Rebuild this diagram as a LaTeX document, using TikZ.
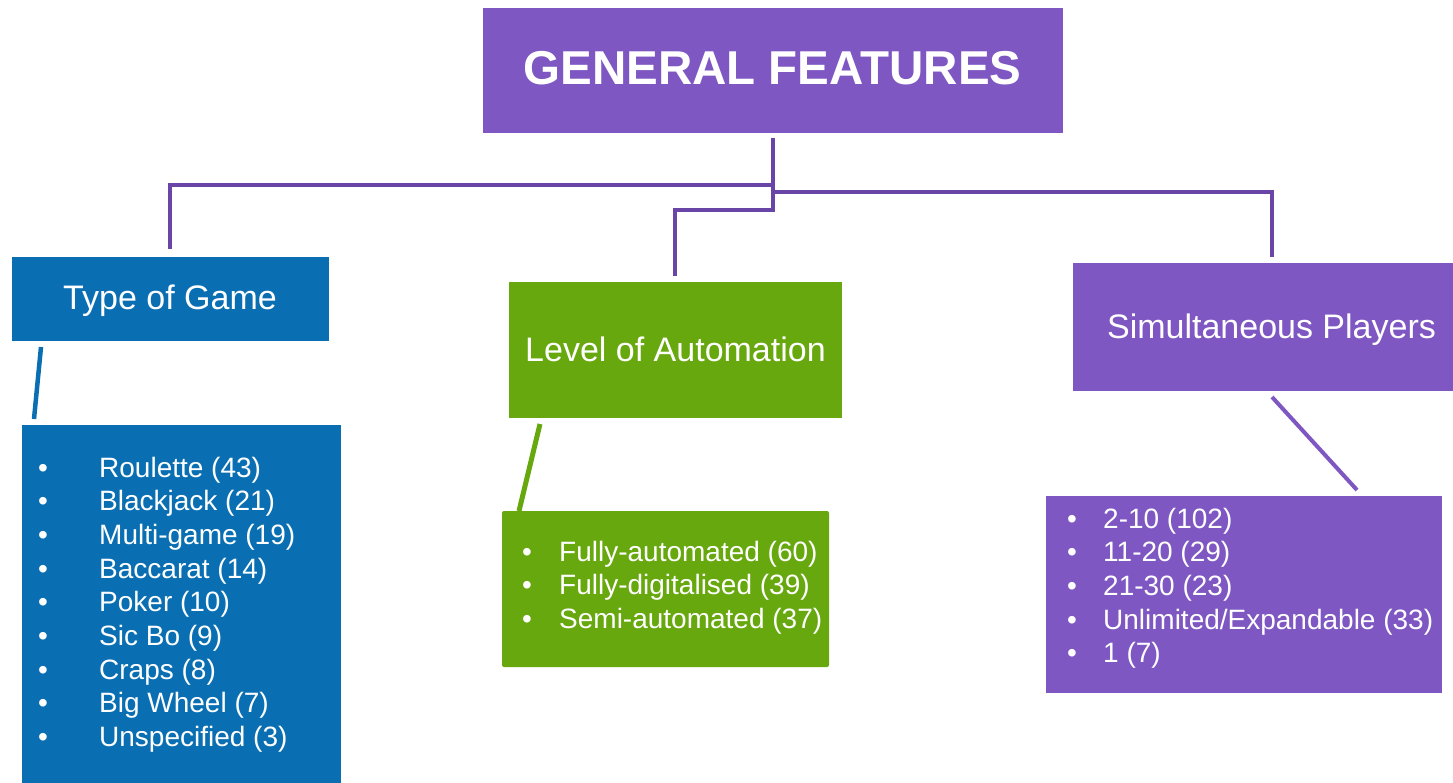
\documentclass[tikz,border=0pt]{standalone}
\usepackage{fontspec}
\setmainfont{Liberation Sans}
\definecolor{featpurple}{RGB}{126,87,194}
\definecolor{linkpurple}{RGB}{104,69,166}
\definecolor{gameblue}{RGB}{10,111,178}
\definecolor{autogreen}{RGB}{102,168,13}
\begin{document}
\begin{tikzpicture}[x=1pt,y=-1pt,
  panel/.style={rectangle, inner sep=0pt, outer sep=0pt},
  heading/.style={anchor=base, text=white, inner sep=0pt, font=\fontsize{34}{40}\selectfont},
  item/.style={anchor=base west, text=white, inner sep=0pt, font=\fontsize{28}{33.7}\selectfont},
  dot/.style={anchor=base, text=white, inner sep=0pt, font=\fontsize{28}{33.7}\selectfont},
  branch/.style={draw=linkpurple, line width=4pt, line cap=butt, line join=miter},
  leaf/.style={line width=4.5pt, line cap=butt}]
\useasboundingbox (0,0) rectangle (1453,782);

% category boxes
\node[panel, fill=featpurple, minimum width=580, minimum height=125] (title) at (773,70.5) {};
\node[panel, fill=gameblue, minimum width=317, minimum height=84] (game) at (170.5,299) {};
\node[panel, fill=autogreen, minimum width=333, minimum height=136] (auto) at (675.5,350) {};
\node[panel, fill=featpurple, minimum width=387, minimum height=128] (players) at (1266.5,327) {};

% list boxes
\node[panel, fill=gameblue, minimum width=319, minimum height=365] (gamelist) at (181.5,607.5) {};
\node[panel, fill=autogreen, rounded corners=2pt, minimum width=327, minimum height=156] (autolist) at (665.5,589) {};
\node[panel, fill=featpurple, minimum width=396, minimum height=197] (playerlist) at (1244,594.5) {};

% headings
\node[anchor=base, text=white, inner sep=0pt, font=\fontsize{47.5}{54}\selectfont\bfseries] (titletext) at (772.5,84) {GENERAL FEATURES};
\node[heading] (gametext) at (170,309) {Type of Game};
\node[heading] (autotext) at (675.5,361) {Level of Automation};
\node[heading] (playerstext) at (1271.5,338) {Simultaneous Players};

% list entries
\foreach \t [count=\i from 0] in {Roulette (43), Blackjack (21), Multi-game (19), Baccarat (14), Poker (10), Sic Bo (9), Craps (8), Big Wheel (7), Unspecified (3)} {
  \node[dot] (gb\i) at (43, 477+33.7*\i) {\textbullet};
  \node[item] (g\i) at (99, 477+33.7*\i) {\t};
}
\foreach \t [count=\i from 0] in {Fully-automated (60), Fully-digitalised (39), Semi-automated (37)} {
  \node[dot] (ab\i) at (527, 561+33.7*\i) {\textbullet};
  \node[item] (a\i) at (559, 561+33.7*\i) {\t};
}
\foreach \t [count=\i from 0] in {2-10 (102), 11-20 (29), 21-30 (23), Unlimited/Expandable (33), 1 (7)} {
  \node[dot] (pb\i) at (1072, 528+33.7*\i) {\textbullet};
  \node[item] (p\i) at (1103, 528+33.7*\i) {\t};
}

% tree connectors
\coordinate (hubtop) at (773,138);
\coordinate (hubbot) at (773,212);
\coordinate (gamejoin) at (773,185);
\coordinate (autojoin) at (773,210);
\coordinate (playjoin) at (773,192);
\coordinate (gameend) at (170,249);
\coordinate (autoend) at (675,276);
\coordinate (playend) at (1272,257);
\draw[branch] (hubtop) -- (hubbot);
\draw[branch] (gamejoin) -| (gameend);
\draw[branch] (autojoin) -| (autoend);
\draw[branch] (playjoin) -| (playend);

% links from headings to their lists
\coordinate (gs) at (41,347);
\coordinate (ge) at (34,419);
\coordinate (as) at (540,424);
\coordinate (ae) at (519,511);
\coordinate (ps) at (1272,397);
\coordinate (pe) at (1357,490);
\draw[leaf, draw=gameblue] (gs) -- (ge);
\draw[leaf, draw=autogreen, line width=5pt] (as) -- (ae);
\draw[leaf, draw=featpurple, line width=4pt] (ps) -- (pe);
\end{tikzpicture}
\end{document}
